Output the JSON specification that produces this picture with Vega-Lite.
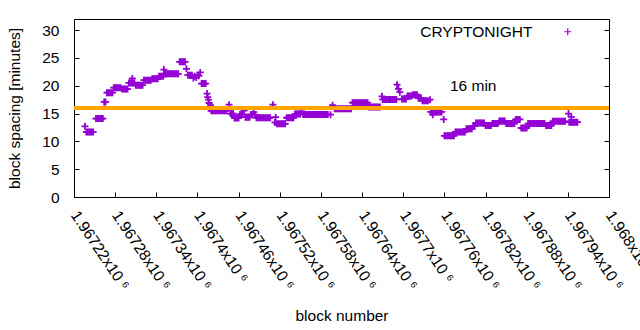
{
  "$schema": "https://vega.github.io/schema/vega-lite/v6.json",
  "width": 535,
  "height": 178,
  "autosize": {"type": "none"},
  "padding": {"left": 74, "top": 19, "right": 31, "bottom": 133},
  "background": "white",
  "config": {
    "font": "Liberation Sans",
    "view": {"stroke": "black", "strokeWidth": 1},
    "axis": {"grid": false, "domain": false, "labelFont": "Liberation Sans", "titleFont": "Liberation Sans", "labelFontSize": 15.5, "titleFontSize": 15.5, "titleFontWeight": "normal", "labelColor": "black", "titleColor": "black", "tickColor": "black", "tickWidth": 1},
    "legend": {"labelFont": "Liberation Sans", "labelFontSize": 15.5, "labelColor": "black", "padding": 0}
  },
  "datasets": {
    "blocks": [
      {"block":1967236,"minutes":12.7},
      {"block":1967238,"minutes":11.7},{"block":1967240,"minutes":11.7},{"block":1967242,"minutes":11.7},{"block":1967244,"minutes":11.7},{"block":1967246,"minutes":11.7},{"block":1967248,"minutes":11.7},
      {"block":1967252,"minutes":14.1},{"block":1967254,"minutes":14.1},{"block":1967256,"minutes":14.1},{"block":1967258,"minutes":14.1},{"block":1967260,"minutes":14.1},{"block":1967262,"minutes":14.1},
      {"block":1967264,"minutes":17.1},{"block":1967266,"minutes":17.1},
      {"block":1967268,"minutes":18.75},{"block":1967270,"minutes":18.75},{"block":1967272,"minutes":18.75},{"block":1967274,"minutes":18.75},{"block":1967276,"minutes":18.75},
      {"block":1967278,"minutes":19.65},{"block":1967280,"minutes":19.65},{"block":1967282,"minutes":19.65},{"block":1967284,"minutes":19.65},{"block":1967286,"minutes":19.65},{"block":1967288,"minutes":19.65},
      {"block":1967290,"minutes":19.4},{"block":1967292,"minutes":19.4},{"block":1967294,"minutes":19.4},{"block":1967296,"minutes":19.4},{"block":1967298,"minutes":19.4},
      {"block":1967300,"minutes":20.5},{"block":1967302,"minutes":20.5},{"block":1967304,"minutes":20.5},{"block":1967305,"minutes":21.3},{"block":1967306,"minutes":20.5},{"block":1967308,"minutes":20.5},
      {"block":1967310,"minutes":20.1},{"block":1967312,"minutes":20.1},{"block":1967314,"minutes":20.1},{"block":1967316,"minutes":20.1},{"block":1967318,"minutes":20.1},{"block":1967320,"minutes":20.1},
      {"block":1967322,"minutes":21.0},{"block":1967324,"minutes":21.0},{"block":1967326,"minutes":21.0},{"block":1967328,"minutes":21.0},{"block":1967330,"minutes":21.0},{"block":1967332,"minutes":21.0},
      {"block":1967334,"minutes":21.25},{"block":1967336,"minutes":21.25},{"block":1967338,"minutes":21.25},{"block":1967340,"minutes":21.25},{"block":1967342,"minutes":21.25},
      {"block":1967344,"minutes":21.7},{"block":1967346,"minutes":21.7},{"block":1967348,"minutes":21.7},{"block":1967350,"minutes":21.7},{"block":1967351,"minutes":22.9},
      {"block":1967352,"minutes":22.15},{"block":1967354,"minutes":22.15},{"block":1967356,"minutes":22.15},{"block":1967358,"minutes":22.15},{"block":1967360,"minutes":22.15},{"block":1967362,"minutes":22.15},{"block":1967364,"minutes":22.15},{"block":1967366,"minutes":22.15},{"block":1967368,"minutes":22.15},{"block":1967370,"minutes":22.15},{"block":1967372,"minutes":22.15},
      {"block":1967374,"minutes":24.3},{"block":1967376,"minutes":24.3},{"block":1967378,"minutes":24.3},{"block":1967380,"minutes":24.3},{"block":1967382,"minutes":24.3},
      {"block":1967384,"minutes":23.05},
      {"block":1967386,"minutes":21.9},{"block":1967388,"minutes":21.9},{"block":1967390,"minutes":21.9},{"block":1967392,"minutes":21.9},
      {"block":1967394,"minutes":21.4},{"block":1967396,"minutes":21.7},{"block":1967398,"minutes":21.5},{"block":1967400,"minutes":21.9},{"block":1967402,"minutes":21.8},{"block":1967404,"minutes":22.4},
      {"block":1967406,"minutes":20.4},{"block":1967408,"minutes":20.4},{"block":1967410,"minutes":20.4},{"block":1967412,"minutes":20.4},
      {"block":1967414,"minutes":18.6},{"block":1967415,"minutes":17.95},{"block":1967416,"minutes":17.5},{"block":1967417,"minutes":16.9},{"block":1967419,"minutes":16.5},
      {"block":1967420,"minutes":15.5},{"block":1967422,"minutes":15.5},{"block":1967424,"minutes":15.5},{"block":1967426,"minutes":15.5},{"block":1967428,"minutes":15.5},{"block":1967430,"minutes":15.5},{"block":1967432,"minutes":15.5},{"block":1967434,"minutes":15.5},{"block":1967436,"minutes":15.5},{"block":1967438,"minutes":15.5},{"block":1967440,"minutes":15.5},{"block":1967442,"minutes":15.5},
      {"block":1967446,"minutes":16.6},
      {"block":1967448,"minutes":15.0},{"block":1967450,"minutes":15.0},{"block":1967452,"minutes":15.0},
      {"block":1967454,"minutes":14.2},{"block":1967456,"minutes":14.2},{"block":1967458,"minutes":14.2},{"block":1967460,"minutes":14.2},
      {"block":1967462,"minutes":14.85},{"block":1967464,"minutes":14.85},{"block":1967466,"minutes":14.85},{"block":1967468,"minutes":15.55},
      {"block":1967470,"minutes":14.35},{"block":1967472,"minutes":14.35},{"block":1967474,"minutes":14.35},{"block":1967476,"minutes":14.35},
      {"block":1967478,"minutes":14.8},{"block":1967480,"minutes":14.8},{"block":1967482,"minutes":15.25},{"block":1967484,"minutes":14.8},
      {"block":1967486,"minutes":14.25},{"block":1967488,"minutes":14.25},{"block":1967490,"minutes":14.25},{"block":1967492,"minutes":14.25},{"block":1967494,"minutes":14.25},{"block":1967496,"minutes":14.25},{"block":1967498,"minutes":14.25},{"block":1967500,"minutes":14.25},{"block":1967502,"minutes":14.25},{"block":1967504,"minutes":14.25},{"block":1967506,"minutes":14.25},
      {"block":1967510,"minutes":16.6},
      {"block":1967513,"minutes":13.4},{"block":1967514,"minutes":14.35},
      {"block":1967516,"minutes":13.15},{"block":1967518,"minutes":13.15},{"block":1967520,"minutes":13.15},{"block":1967522,"minutes":13.15},{"block":1967524,"minutes":13.15},{"block":1967526,"minutes":13.15},{"block":1967528,"minutes":13.15},
      {"block":1967530,"minutes":14.25},{"block":1967532,"minutes":14.25},{"block":1967534,"minutes":14.25},{"block":1967536,"minutes":14.25},{"block":1967538,"minutes":14.25},{"block":1967540,"minutes":14.25},
      {"block":1967542,"minutes":14.9},{"block":1967544,"minutes":14.9},{"block":1967546,"minutes":14.9},{"block":1967548,"minutes":14.9},{"block":1967550,"minutes":14.9},{"block":1967552,"minutes":15.4},
      {"block":1967554,"minutes":14.85},{"block":1967556,"minutes":14.85},{"block":1967558,"minutes":14.85},{"block":1967560,"minutes":14.85},{"block":1967562,"minutes":14.85},{"block":1967564,"minutes":14.85},{"block":1967566,"minutes":14.85},{"block":1967568,"minutes":14.85},{"block":1967570,"minutes":14.85},{"block":1967572,"minutes":14.85},{"block":1967574,"minutes":14.85},{"block":1967576,"minutes":14.85},{"block":1967578,"minutes":14.85},{"block":1967580,"minutes":14.85},{"block":1967582,"minutes":14.85},{"block":1967584,"minutes":14.85},{"block":1967586,"minutes":14.85},{"block":1967588,"minutes":14.85},{"block":1967590,"minutes":14.85},
      {"block":1967594,"minutes":14.8},
      {"block":1967597,"minutes":16.5},
      {"block":1967600,"minutes":15.85},{"block":1967602,"minutes":15.85},{"block":1967604,"minutes":15.85},{"block":1967606,"minutes":15.85},{"block":1967608,"minutes":15.85},{"block":1967610,"minutes":15.85},{"block":1967612,"minutes":15.85},{"block":1967614,"minutes":15.85},{"block":1967616,"minutes":15.85},{"block":1967618,"minutes":15.85},{"block":1967620,"minutes":15.85},{"block":1967622,"minutes":15.85},{"block":1967624,"minutes":15.85},
      {"block":1967626,"minutes":16.95},{"block":1967628,"minutes":16.95},{"block":1967630,"minutes":16.95},{"block":1967632,"minutes":16.95},{"block":1967634,"minutes":16.95},{"block":1967636,"minutes":16.95},{"block":1967638,"minutes":16.95},{"block":1967640,"minutes":16.95},{"block":1967642,"minutes":16.95},{"block":1967644,"minutes":16.95},{"block":1967646,"minutes":16.95},{"block":1967648,"minutes":16.95},
      {"block":1967650,"minutes":16.2},{"block":1967652,"minutes":16.2},{"block":1967654,"minutes":16.2},{"block":1967656,"minutes":16.2},{"block":1967658,"minutes":16.2},{"block":1967660,"minutes":16.2},{"block":1967662,"minutes":16.2},{"block":1967664,"minutes":16.2},{"block":1967666,"minutes":16.2},
      {"block":1967669,"minutes":18.1},
      {"block":1967670,"minutes":17.55},{"block":1967672,"minutes":17.55},{"block":1967674,"minutes":17.55},{"block":1967676,"minutes":17.55},{"block":1967678,"minutes":17.55},{"block":1967680,"minutes":17.55},{"block":1967682,"minutes":17.55},{"block":1967684,"minutes":17.55},{"block":1967686,"minutes":17.55},{"block":1967688,"minutes":17.55},{"block":1967690,"minutes":17.55},
      {"block":1967691,"minutes":20.2},{"block":1967693,"minutes":19.45},{"block":1967695,"minutes":18.85},
      {"block":1967698,"minutes":17.6},{"block":1967700,"minutes":17.6},{"block":1967702,"minutes":17.6},{"block":1967704,"minutes":17.6},
      {"block":1967706,"minutes":18.15},{"block":1967708,"minutes":18.15},{"block":1967710,"minutes":18.15},{"block":1967712,"minutes":18.15},
      {"block":1967714,"minutes":18.4},{"block":1967716,"minutes":18.4},{"block":1967718,"minutes":18.4},{"block":1967720,"minutes":18.4},
      {"block":1967722,"minutes":17.8},{"block":1967724,"minutes":17.8},{"block":1967726,"minutes":17.8},
      {"block":1967728,"minutes":17.3},{"block":1967730,"minutes":17.3},{"block":1967732,"minutes":17.3},{"block":1967734,"minutes":17.3},{"block":1967736,"minutes":17.3},
      {"block":1967739,"minutes":17.5},
      {"block":1967740,"minutes":15.3},{"block":1967742,"minutes":15.3},{"block":1967743,"minutes":14.8},{"block":1967744,"minutes":15.3},{"block":1967746,"minutes":15.3},{"block":1967748,"minutes":15.3},{"block":1967750,"minutes":15.3},{"block":1967752,"minutes":15.3},{"block":1967754,"minutes":15.3},{"block":1967756,"minutes":15.3},
      {"block":1967759,"minutes":13.95},
      {"block":1967760,"minutes":11.0},{"block":1967762,"minutes":11.0},{"block":1967764,"minutes":11.0},{"block":1967766,"minutes":11.0},{"block":1967768,"minutes":11.0},{"block":1967770,"minutes":11.0},{"block":1967772,"minutes":11.0},{"block":1967774,"minutes":11.0},
      {"block":1967776,"minutes":11.7},{"block":1967778,"minutes":11.7},{"block":1967780,"minutes":11.7},{"block":1967782,"minutes":11.7},{"block":1967784,"minutes":11.7},{"block":1967786,"minutes":11.7},{"block":1967788,"minutes":11.7},{"block":1967790,"minutes":11.7},
      {"block":1967792,"minutes":12.25},{"block":1967794,"minutes":12.25},{"block":1967796,"minutes":12.25},{"block":1967798,"minutes":12.25},{"block":1967800,"minutes":12.25},
      {"block":1967802,"minutes":12.75},{"block":1967804,"minutes":12.75},
      {"block":1967806,"minutes":13.3},{"block":1967808,"minutes":13.3},{"block":1967810,"minutes":13.3},{"block":1967812,"minutes":13.3},{"block":1967814,"minutes":13.3},{"block":1967816,"minutes":13.3},{"block":1967818,"minutes":13.3},
      {"block":1967820,"minutes":12.85},{"block":1967822,"minutes":12.85},{"block":1967824,"minutes":12.85},{"block":1967826,"minutes":12.85},{"block":1967828,"minutes":12.85},
      {"block":1967830,"minutes":13.2},{"block":1967832,"minutes":13.2},{"block":1967834,"minutes":13.2},{"block":1967836,"minutes":13.2},{"block":1967838,"minutes":13.2},
      {"block":1967840,"minutes":13.65},{"block":1967842,"minutes":13.65},{"block":1967844,"minutes":13.65},{"block":1967846,"minutes":13.65},{"block":1967848,"minutes":13.65},
      {"block":1967850,"minutes":13.2},{"block":1967852,"minutes":13.2},{"block":1967854,"minutes":13.2},{"block":1967856,"minutes":13.2},{"block":1967858,"minutes":13.2},{"block":1967860,"minutes":13.2},{"block":1967862,"minutes":13.2},
      {"block":1967864,"minutes":13.95},{"block":1967866,"minutes":13.95},{"block":1967868,"minutes":13.95},{"block":1967870,"minutes":13.95},
      {"block":1967872,"minutes":12.4},{"block":1967874,"minutes":12.4},{"block":1967876,"minutes":12.4},{"block":1967878,"minutes":12.4},{"block":1967880,"minutes":12.4},
      {"block":1967882,"minutes":13.2},{"block":1967884,"minutes":13.2},{"block":1967886,"minutes":13.2},{"block":1967888,"minutes":13.2},{"block":1967890,"minutes":13.2},{"block":1967892,"minutes":13.2},{"block":1967894,"minutes":13.2},{"block":1967896,"minutes":13.2},{"block":1967898,"minutes":13.2},{"block":1967900,"minutes":13.2},{"block":1967902,"minutes":13.2},{"block":1967904,"minutes":13.2},{"block":1967906,"minutes":13.2},
      {"block":1967908,"minutes":12.85},{"block":1967910,"minutes":12.85},{"block":1967912,"minutes":12.85},{"block":1967914,"minutes":12.85},{"block":1967916,"minutes":12.85},
      {"block":1967918,"minutes":13.6},{"block":1967920,"minutes":13.6},{"block":1967922,"minutes":13.6},{"block":1967924,"minutes":13.6},{"block":1967926,"minutes":13.6},{"block":1967928,"minutes":13.6},{"block":1967930,"minutes":13.6},{"block":1967932,"minutes":13.6},{"block":1967934,"minutes":13.6},{"block":1967936,"minutes":13.6},
      {"block":1967941,"minutes":15.0},{"block":1967945,"minutes":14.4},
      {"block":1967942,"minutes":13.45},{"block":1967944,"minutes":13.45},{"block":1967946,"minutes":13.45},{"block":1967948,"minutes":13.45},{"block":1967950,"minutes":13.45},{"block":1967952,"minutes":13.45},{"block":1967954,"minutes":13.45}
    ],
    "target": [{"minutes": 16, "label": "16 min", "labelBlock": 1967802, "labelMinutes": 20}]
  },
  "layer": [
    {
      "data": {"name": "blocks"},
      "mark": {"type": "point", "shape": "M-1,0L1,0M0,-1L0,1", "filled": false, "size": 49, "strokeWidth": 1.8, "opacity": 1},
      "encoding": {
        "x": {
          "field": "block", "type": "quantitative",
          "scale": {"domain": [1967220, 1968000], "nice": false, "zero": false},
          "axis": {
            "values": [1967220, 1967280, 1967340, 1967400, 1967460, 1967520, 1967580, 1967640, 1967700, 1967760, 1967820, 1967880, 1967940, 1968000],
            "labelExpr": "format(datum.value / 1000000, '.5~f') + 'x10 ⁶'",
            "labelAngle": 56, "labelAlign": "left", "labelBaseline": "middle",
            "labelOverlap": false, "labelBound": false, "labelFlush": false,
            "tickSize": -5, "labelPadding": 20,
            "title": "block number", "titlePadding": 16
          }
        },
        "y": {
          "field": "minutes", "type": "quantitative",
          "scale": {"domain": [0, 32], "nice": false, "zero": true},
          "axis": {
            "orient": "left",
            "values": [0, 5, 10, 15, 20, 25, 30],
            "tickSize": -5, "labelPadding": 20,
            "title": "block spacing [minutes]", "titlePadding": 19
          }
        },
        "color": {
          "datum": "CRYPTONIGHT",
          "scale": {"range": ["#9400d3"]},
          "legend": {
            "title": null, "orient": "none", "legendX": 486, "legendY": 5,
            "symbolType": "M-1,0L1,0M0,-1L0,1", "symbolSize": 49, "symbolStrokeWidth": 1.2,
            "labelAlign": "right", "labelOffset": -43
          }
        }
      }
    },
    {
      "data": {"name": "target"},
      "mark": {"type": "rule", "color": "#ffa500", "strokeWidth": 4},
      "encoding": {
        "y": {
          "field": "minutes", "type": "quantitative",
          "axis": {"orient": "right", "values": [0, 5, 10, 15, 20, 25, 30], "labels": false, "title": null, "tickSize": -5}
        }
      }
    },
    {
      "data": {"name": "target"},
      "mark": {"type": "text", "font": "Liberation Sans", "fontSize": 15.5, "color": "black", "align": "center", "baseline": "middle"},
      "encoding": {
        "x": {"field": "labelBlock", "type": "quantitative", "axis": null},
        "y": {"field": "labelMinutes", "type": "quantitative", "axis": null},
        "text": {"field": "label"}
      }
    }
  ],
  "resolve": {"axis": {"x": "independent", "y": "independent"}}
}
